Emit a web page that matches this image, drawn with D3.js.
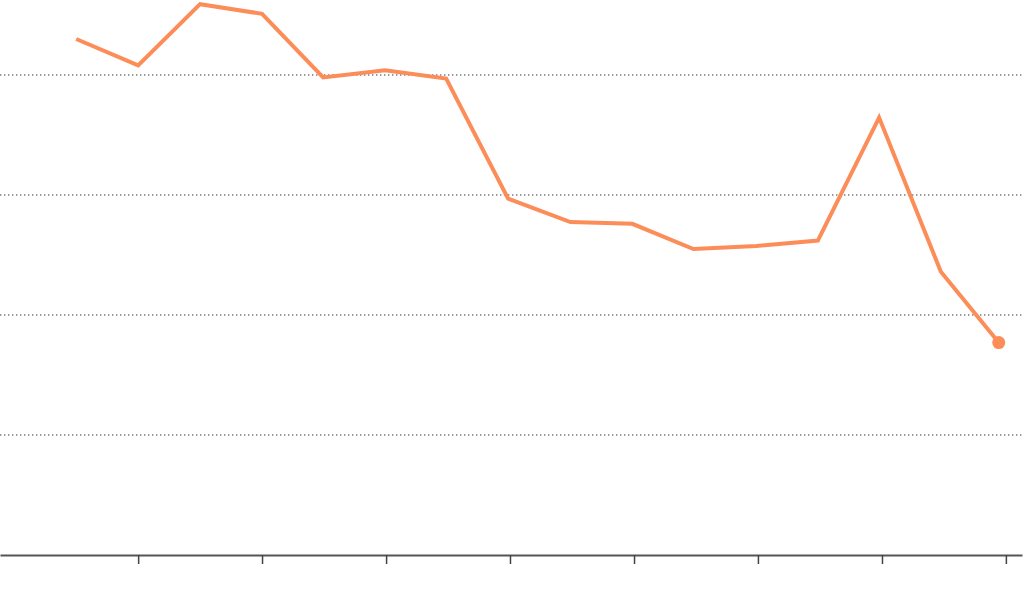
<!DOCTYPE html>
<html>
<head>
<meta charset="utf-8">
<script src="https://cdn.jsdelivr.net/npm/d3@7"></script>
<style>
  html, body { margin: 0; padding: 0; background: #fff; }
  svg { display: block; }
</style>
</head>
<body>
<svg id="chart" width="1024" height="611"></svg>
<script>
// Data
const dates = ["2005-01-01","2006-01-01","2007-01-01","2008-01-01","2008-12-26","2009-12-26",
  "2010-12-21","2011-12-21","2012-12-22","2013-12-22","2014-12-17","2015-12-23",
  "2016-12-19","2017-12-15","2018-12-14","2019-11-20"];
const values = [43.0, 40.8, 45.9, 45.1, 39.8, 40.4, 39.7, 29.7, 27.75, 27.6, 25.5, 25.75, 26.2, 36.45, 23.6, 17.7];
const yTicks = [10, 20, 30, 40];
const xTickYears = [2006, 2008, 2010, 2012, 2014, 2016, 2018, 2020];

const parse = d3.timeParse("%Y-%m-%d");
const data = dates.map((d, i) => ({ date: parse(d), value: values[i] }));

const svg = d3.select("#chart");
const left = 0, right = 1022, bottom = 555;

const x = d3.scaleTime()
  .domain([new Date(2003, 9, 10), new Date(2020, 3, 5)])
  .range([left, right]);
const y = d3.scaleLinear().domain([0, 40]).range([bottom, 75]);

// gridlines
svg.append("g")
  .selectAll("line")
  .data(yTicks)
  .join("line")
  .attr("x1", left).attr("x2", right)
  .attr("y1", d => y(d)).attr("y2", d => y(d))
  .attr("stroke", "#7a7a7a")
  .attr("stroke-width", 1.4)
  .attr("stroke-dasharray", "1.4,2.6");

// x axis
const xAxis = d3.axisBottom(x)
  .tickValues(xTickYears.map(yr => new Date(yr, 0, 1)))
  .tickSize(9)
  .tickSizeOuter(0)
  .tickFormat("");
const gx = svg.append("g").attr("transform", `translate(0,${bottom})`).call(xAxis);
gx.select(".domain").attr("stroke", "#555").attr("stroke-width", 2);
gx.selectAll(".tick line").attr("stroke", "#444").attr("stroke-width", 1.5);

// line
const line = d3.line().x(d => x(d.date)).y(d => y(d.value));
svg.append("path")
  .datum(data)
  .attr("fill", "none")
  .attr("stroke", "#fc8d59")
  .attr("stroke-width", 4)
  .attr("stroke-linejoin", "miter")
  .attr("d", line);

// end dot
const last = data[data.length - 1];
svg.append("circle")
  .attr("cx", x(last.date)).attr("cy", y(last.value))
  .attr("r", 6.5)
  .attr("fill", "#fc8d59");
</script>
</body>
</html>
